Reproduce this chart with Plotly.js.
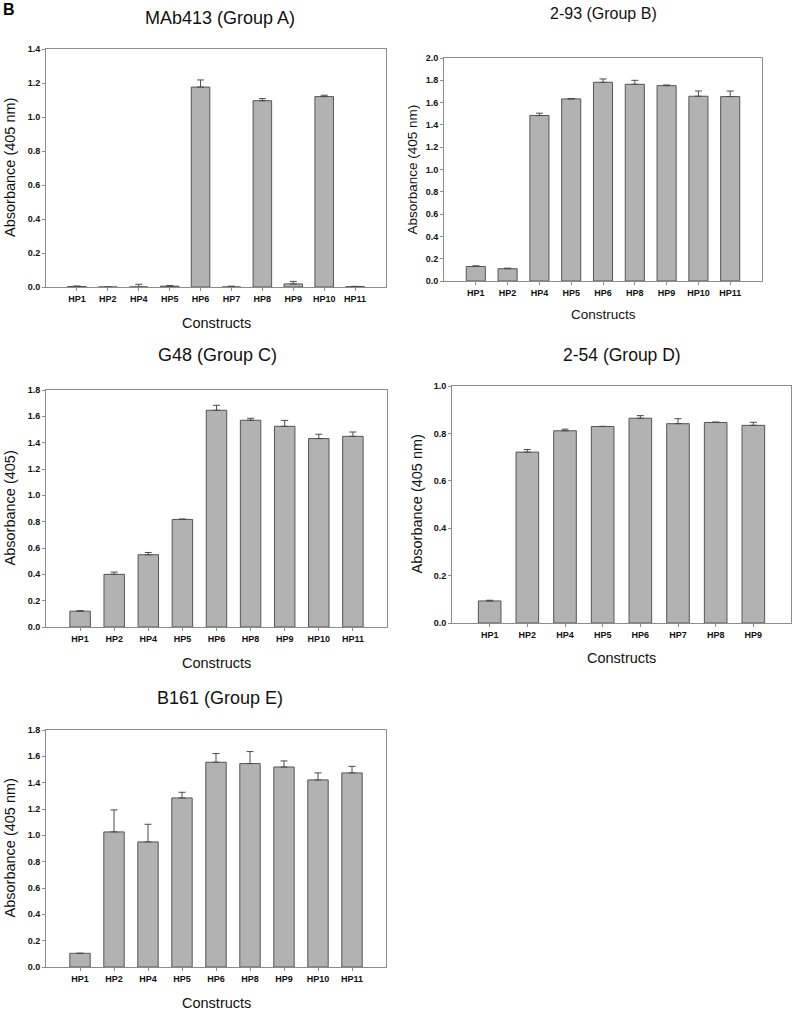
<!DOCTYPE html>
<html>
<head>
<meta charset="utf-8">
<script src="https://cdn.plot.ly/plotly-3.0.1.min.js"></script>
<style>html,body{margin:0;padding:0;background:#fff;}#chart{width:793px;height:1010px;}</style>
</head>
<body>
<div id="chart"></div>
<script>
// ---- data ----
const catsA = ["HP1","HP2","HP4","HP5","HP6","HP7","HP8","HP9","HP10","HP11"];
const valsA = [0.003, 0, 0, 0.005, 1.176, 0, 1.096, 0.018, 1.12, 0.002];
const errA  = [0.003, 0, 0.016, 0.003, 0.042, 0.005, 0.012, 0.015, 0.008, 0.002];

const catsB = ["HP1","HP2","HP4","HP5","HP6","HP8","HP9","HP10","HP11"];
const valsB = [0.13, 0.11, 1.484, 1.633, 1.782, 1.764, 1.752, 1.657, 1.654];
const errB  = [0.006, 0.005, 0.021, 0.003, 0.03, 0.036, 0.006, 0.047, 0.05];

const catsC = ["HP1","HP2","HP4","HP5","HP6","HP8","HP9","HP10","HP11"];
const valsC = [0.12, 0.40, 0.549, 0.817, 1.646, 1.570, 1.524, 1.431, 1.448];
const errC  = [0.004, 0.017, 0.017, 0.003, 0.038, 0.015, 0.045, 0.033, 0.033];

const catsD = ["HP1","HP2","HP4","HP5","HP6","HP7","HP8","HP9"];
const valsD = [0.093, 0.721, 0.811, 0.829, 0.864, 0.841, 0.846, 0.834];
const errD  = [0.003, 0.011, 0.007, 0.001, 0.011, 0.021, 0.002, 0.013];

const catsE = ["HP1","HP2","HP4","HP5","HP6","HP8","HP9","HP10","HP11"];
const valsE = [0.104, 1.026, 0.950, 1.284, 1.555, 1.545, 1.519, 1.421, 1.474];
const errE  = [0, 0.167, 0.134, 0.043, 0.066, 0.091, 0.046, 0.053, 0.05];

const titles = ["MAb413 (Group A)", "2-93 (Group B)", "G48 (Group C)", "2-54 (Group D)", "B161 (Group E)"];
const yTitles = ["Absorbance (405 nm)", "Absorbance (405 nm)", "Absorbance (405)", "Absorbance (405 nm)", "Absorbance (405 nm)"];
const xTitle = "Constructs";
const yMax = [1.4, 2.0, 1.8, 1.0, 1.8];

// ---- layout geometry (pixels) ----
const W = 793, H = 1010;
const px = x => x / W, py = y => 1 - y / H;
const panels = [
  {cats: catsA, vals: valsA, err: errA, l: 46,  r: 386, t: 49,  b: 287, tx: 220, ty: 18,  xt: 323, yx: 10,  tf: 18, af: 14.5},
  {cats: catsB, vals: valsB, err: errB, l: 444, r: 762, t: 58,  b: 281, tx: 603, ty: 13,  xt: 314, yx: 412, tf: 16, af: 13.5},
  {cats: catsC, vals: valsC, err: errC, l: 46,  r: 387, t: 390, b: 627, tx: 217, ty: 355, xt: 663, yx: 9,   tf: 18, af: 14.5},
  {cats: catsD, vals: valsD, err: errD, l: 452, r: 791, t: 386, b: 623, tx: 622, ty: 355, xt: 658, yx: 416, tf: 17.5, af: 14.5},
  {cats: catsE, vals: valsE, err: errE, l: 46,  r: 386, t: 730, b: 967, tx: 220, ty: 698, xt: 1003, yx: 9,  tf: 18, af: 14.5}
];

const FONT = "Liberation Sans, Arial, sans-serif";
const traces = [];
const layout = {
  width: W, height: H,
  margin: {l: 0, r: 0, t: 0, b: 0},
  paper_bgcolor: "#ffffff", plot_bgcolor: "#ffffff",
  showlegend: false,
  font: {family: FONT, color: "#111"},
  annotations: [
    {text: "<b>B</b>", x: px(1), y: py(9), xref: "paper", yref: "paper", xanchor: "left", yanchor: "middle", showarrow: false, font: {size: 16, color: "#000", family: FONT}}
  ]
};

panels.forEach((p, i) => {
  const n = i + 1;
  const xa = n === 1 ? "xaxis" : "xaxis" + n;
  const ya = n === 1 ? "yaxis" : "yaxis" + n;
  traces.push({
    type: "bar",
    x: p.cats, y: p.vals,
    xaxis: "x" + (n === 1 ? "" : n), yaxis: "y" + (n === 1 ? "" : n),
    width: 0.6,
    marker: {color: "#b2b2b2", line: {color: "#555555", width: 1}},
    error_y: {type: "data", symmetric: false, array: p.err, arrayminus: p.err.map(() => 0),
              color: "#4a4a4a", thickness: 1, width: 3.5},
    hoverinfo: "skip"
  });
  layout[xa] = {
    domain: [px(p.l), px(p.r)],
    anchor: "y" + (n === 1 ? "" : n),
    type: "category",
    range: [-1, p.cats.length],
    showline: true, mirror: true, linecolor: "#8c8c8c", linewidth: 1,
    ticks: "outside", ticklen: 3, tickcolor: "#8c8c8c",
    showgrid: false, zeroline: false,
    tickfont: {size: 9, family: FONT, weight: "bold", color: "#111"},
    fixedrange: true
  };
  layout[ya] = {
    domain: [py(p.b), py(p.t)],
    anchor: "x" + (n === 1 ? "" : n),
    range: [0, yMax[i]],
    dtick: 0.2, tickformat: ".1f",
    showline: true, mirror: true, linecolor: "#8c8c8c", linewidth: 1,
    ticks: "outside", ticklen: 3, tickcolor: "#8c8c8c",
    showgrid: false, zeroline: false,
    tickfont: {size: 9, family: FONT, weight: "bold", color: "#111"},
    fixedrange: true
  };
  layout.annotations.push(
    {text: titles[i], x: px(p.tx), y: py(p.ty), xref: "paper", yref: "paper", xanchor: "center", yanchor: "middle", showarrow: false, font: {size: p.tf, family: FONT, color: "#111"}},
    {text: xTitle, x: px((p.l + p.r) / 2), y: py(p.xt), xref: "paper", yref: "paper", xanchor: "center", yanchor: "middle", showarrow: false, font: {size: p.af, family: FONT, color: "#111"}},
    {text: yTitles[i], x: px(p.yx), y: py((p.t + p.b) / 2), xref: "paper", yref: "paper", xanchor: "center", yanchor: "middle", textangle: -90, showarrow: false, font: {size: p.af, family: FONT, color: "#111"}}
  );
});

Plotly.newPlot("chart", traces, layout, {displayModeBar: false, staticPlot: true});
</script>
</body>
</html>
